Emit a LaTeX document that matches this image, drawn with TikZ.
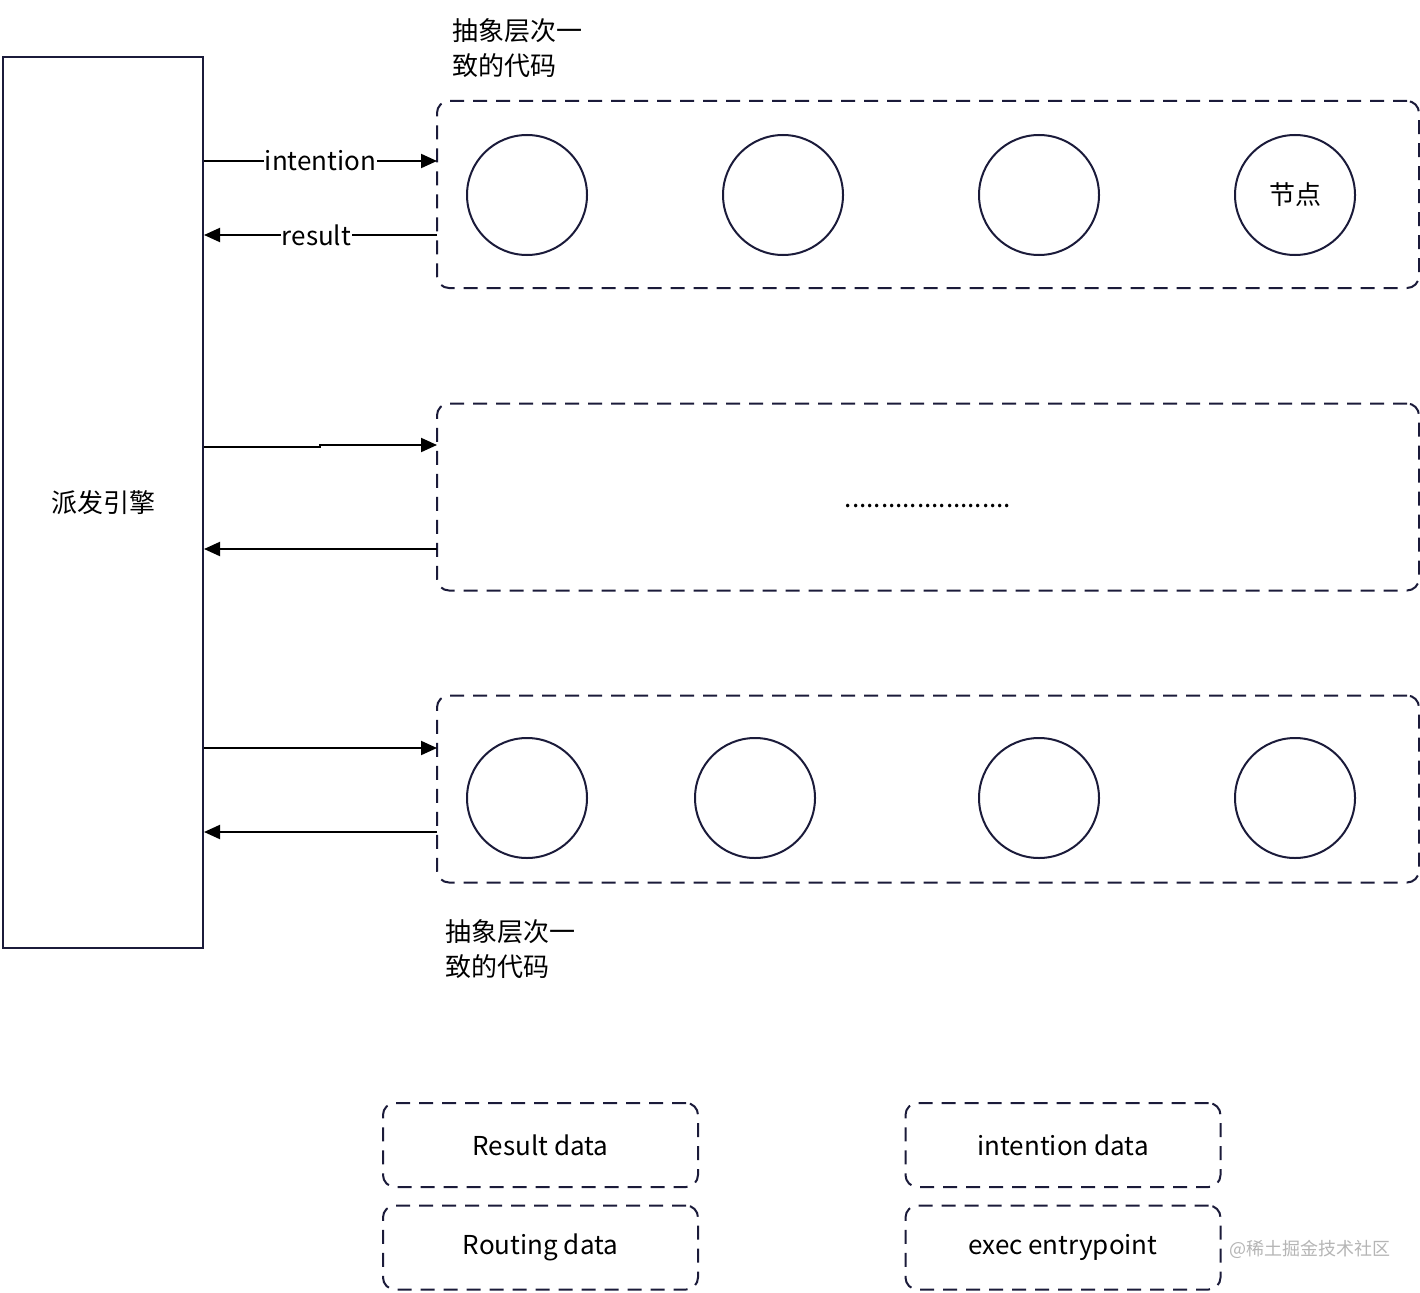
\documentclass[tikz,border=0pt]{standalone}
\usepackage{fontspec}
\setmainfont{Noto Sans CJK SC}
\usetikzlibrary{arrows.meta, positioning, calc}
\definecolor{lineink}{HTML}{1B1B3A}
\definecolor{markgray}{HTML}{B5B5B5}

\begin{document}
\begin{tikzpicture}[
    x=1pt, y=-1pt,
    engine/.style={rectangle, draw=lineink, line width=2pt, minimum width=200pt, minimum height=891pt, font=\fontsize{26}{30}\selectfont},
    layer/.style={rectangle, rounded corners=12pt, draw=lineink, line width=2pt, dash pattern=on 14pt off 9pt, minimum width=982pt, minimum height=187pt},
    unit/.style={circle, draw=lineink, line width=2pt, minimum size=120pt, inner sep=0pt, font=\fontsize{26}{30}\selectfont},
    legend/.style={rectangle, rounded corners=12pt, draw=lineink, line width=2pt, dash pattern=on 14pt off 9pt, minimum width=315pt, minimum height=84pt, font=\fontsize{26}{30}\selectfont},
    caption/.style={align=left, anchor=north west, inner sep=0pt, font=\fontsize{26}{35}\selectfont},
    arrow/.style={-{Triangle[length=16pt, width=14pt]}, line width=2pt, color=black},
    tag/.style={fill=white, inner sep=1pt, font=\fontsize{26}{30}\selectfont}
]
\useasboundingbox (0,0) rectangle (1420,1292);

\node[engine] (engine) at (103,502.5) {派发引擎};

% layers
\node[layer] (layerA) at (928,194.5) {};
\node[layer] (layerB) at (928,497) {};
\node[layer] (layerC) at (928,789) {};

\node[caption] (capA) at (452,18) {抽象层次一\\致的代码};
\node[caption] (capC) at (445,919) {抽象层次一\\致的代码};

% nodes in first layer
\node[unit] (a1) at (527,195) {};
\node[unit] (a2) at (783,195) {};
\node[unit] (a3) at (1039,195) {};
\node[unit] (a4) at (1295,195) {节点};

\node[anchor=base, inner sep=0pt, font=\fontsize{26}{30}\selectfont] (dots) at (928,507) {.......................};

% nodes in last layer
\node[unit] (c1) at (527,798) {};
\node[unit] (c2) at (755,798) {};
\node[unit] (c3) at (1039,798) {};
\node[unit] (c4) at (1295,798) {};

% arrows between engine and layers
\coordinate (inA) at (437,161);
\coordinate (outA) at (437,235);
\coordinate (inB) at (437,445);
\coordinate (outB) at (437,549);
\coordinate (inC) at (437,748);
\coordinate (outC) at (437,832);

\draw[arrow] (engine.east |- inA) -- node[tag] (intent) {intention} (inA);
\draw[arrow] (outA) -- node[tag, xshift=-4pt] (res) {result} (engine.east |- outA);
\draw[arrow] (engine.east |- 0,447) -- (320,447) -- (320,445) -- (inB);
\draw[arrow] (outB) -- (engine.east |- outB);
\draw[arrow] (engine.east |- inC) -- (inC);
\draw[arrow] (outC) -- (engine.east |- outC);

% legend
\node[legend] (resdata) at (540.5,1145) {Result data};
\node[legend] (routedata) at (540.5,1247.5) {Routing data};
\node[legend] (intdata) at (1063,1145) {intention data};
\node[legend] (entry) at (1063,1247.5) {exec entrypoint};

\node[anchor=west, text=markgray, font=\fontsize{18}{22}\selectfont] (mark) at (1226,1249) {@稀土掘金技术社区};

\end{tikzpicture}
\end{document}
